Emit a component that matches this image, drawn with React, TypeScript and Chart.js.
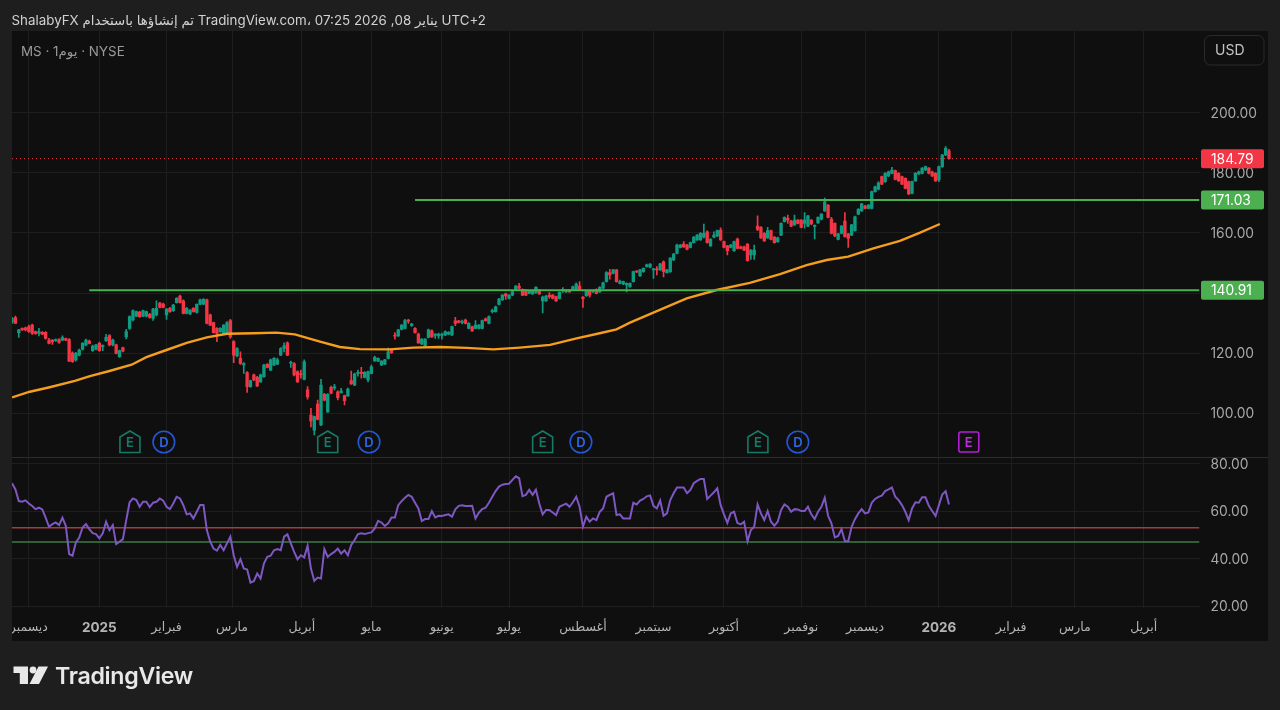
import React, { useEffect, useRef } from "react";
import { Chart, registerables } from "chart.js";

Chart.register(...registerables);

const FONT = 'Inter, "DejaVu Sans", sans-serif';

const opens = [
  130.3,131.8,126.8,128.2,128.4,128.8,129.3,127.1,126.5,126.9,
  126.9,124.3,124.3,124.1,124.5,124.3,124.8,124.5,120.1,117.7,
  119.3,121.2,122.7,124,120.8,121.3,123.2,122.1,124.1,125.8,
  122.7,122.7,118.8,121.8,125.4,128.2,131,132.3,133.6,132.3,
  132.3,132.9,131.5,132.7,136.6,136.3,132.7,134.9,134.1,136.8,
  139,137.4,133.2,133,134.9,133.5,136.3,136.3,137.7,132.7,
  130.1,128.2,127.1,126.5,126.5,130.8,123.8,119,118.2,116,
  113.5,108.8,112.7,111.9,110.4,112.1,116.2,114.3,116,116.3,
  119.3,121.5,123.4,116.6,116.5,113.8,113,111.2,107.7,99.3,
  94.3,103,96,106.2,100.4,108.6,108.4,107.1,106.8,105.8,
  105.7,110.8,109.3,113.2,113.6,111.9,111,113.2,117.4,117.3,
  116,116.3,118.2,121.2,125.8,125.7,127.9,128.2,130.8,129.1,
  128.2,126.3,123,122.3,125.2,127.4,125.9,125.7,125.9,126,
  126.3,126,130.7,130.7,130.2,131,128.2,128.8,128.2,128.2,
  128.2,131.4,129.9,133.8,133.8,136.2,137.7,139.7,138.2,139.3,
  141.2,142.3,141.2,141,139.9,139.7,140.1,141,137.4,137.4,
  139.3,139.3,138.8,138.2,140.8,140.4,141,141,141.2,142.3,
  138.6,139.1,140.8,140.4,141.2,140.4,141.6,143.8,146.8,146.6,
  147.7,143.2,143,142.7,142.1,143.8,147.2,145.7,147.1,148.8,
  148.6,147.7,147.9,147.7,150.4,146.8,147.1,151,153.2,155.2,
  156.3,156,155.2,156.8,157.7,157.7,158.6,160.4,155.7,158.6,
  159,161,157.1,155.7,155.2,154.1,158,155.4,155.4,156.3,
  152.7,152.7,162.3,161.9,159.9,158.4,160.8,158.6,157.1,159.3,
  163.8,164.9,164,162.7,164.3,164.3,163.2,162.3,164.3,162.2,
  163.4,164.6,167.4,169.3,164.6,163.2,157.9,159.9,164,159.7,
  159.3,160.8,166.3,167.4,169,168.2,168.2,173.8,174.6,178.8,
  177.1,179,179.9,180.8,179.9,178.8,178.2,177.1,173.2,177.4,
  179.7,179.9,181,181.6,180.4,179.9,177.7,182.1,186,187.4,
];

const highs = [
  131.9,132.3,127.9,128.4,128.6,129.3,129.6,127.3,128.2,127.1,
  127.1,124.9,124.5,124.7,124.8,125.7,125,124.8,120.4,120.2,
  121.3,123.5,124.6,124.3,122.6,122.9,123.6,122.7,126.2,126.1,
  124.6,123,121,122,127.9,132.4,134.4,134,133.9,134.3,
  134,133.2,134.9,137.4,136.9,136.6,134.9,135.2,136.2,138.5,
  139.3,137.7,135.2,134.5,135.1,136.4,138,138.1,138,133,
  130.3,128.5,128.5,129.5,130.5,131.2,124.1,121.8,120.4,116.8,
  113.8,111,113,112.2,113,116.2,116.5,118,118.5,118.3,
  121.8,123.4,123.7,117.3,116.8,114.1,114.3,117.7,108.8,101.6,
  99,104.3,111.2,106.6,106.5,109,109.6,107.4,108.2,106,
  108.3,114,113.3,114.3,115.2,113.8,114,116,119,118.4,
  117.5,117.9,121.6,121.4,126.8,127.9,129.5,131.2,131.2,129.9,
  128.5,126.6,124.8,124.8,128,127.7,126.5,126.6,126.6,127.4,
  127.1,129,131.9,130.9,131,131.3,130.1,129,130.8,129.5,
  131,131.6,132.4,134.6,135.6,138.2,139.5,140,139.5,140.6,
  142.5,143.2,141.4,141.2,141,141,142.1,141.2,139,139.2,
  140.1,139.5,139,140.4,141.8,141.2,141.2,142.3,143.4,143.8,
  138.8,140.9,141,141,141.4,142.1,143.6,147.1,147.9,147.9,
  147.9,144.3,144,143.4,143.4,147.3,147.5,147.9,148.4,149.6,
  149.8,148.2,148.8,149.9,150.7,147.9,151.8,153.2,156.3,156.2,
  157.1,156.2,157,158.8,159.5,160.1,163,160.7,158.1,160.4,
  161,161.7,157.3,155.9,156.2,157.3,158.3,155.6,155.6,156.5,
  154.5,156,165.7,162.1,160.1,161.9,161,158.8,158.6,163.4,
  165.4,166,164.2,166,164.5,164.5,166.8,165.9,164.5,162.7,
  165.4,166.5,171.6,169.5,165.2,163.4,159.9,162.5,166.8,159.9,
  162.9,165.6,168.1,169.9,169.2,169.5,174,175.6,177.1,179,
  180.1,180.6,181.9,181,180.1,179,178.4,177.3,177.3,180.1,
  180.6,181.8,182.3,181.8,180.6,180.1,182.3,186.2,188.8,187.9,
];

const lows = [
  129.9,129.9,125.2,127.5,127.4,126.9,126.2,126.2,125.7,126.1,
  124.6,123,122.9,123.9,123.2,124.1,124.1,117.1,116.9,117.3,
  119,121,122.4,123,120.5,121,120.5,120.8,123.9,122.4,
  122.4,119.7,118.5,120.4,124.7,127.9,130.7,132.1,131.9,132.1,
  132,131.6,130.9,132.4,135,135,131.2,133.5,133.9,136.6,
  136.6,133,133,132.8,133.6,133.3,136.1,136.1,129.7,129.1,
  126.6,123.8,126.9,126.3,126.3,124.9,116.8,118.7,116.2,113.2,
  106.9,108.5,110.8,108.8,110.2,111.9,115,114.1,115.8,116.1,
  119.1,120.4,119.1,115.2,112.4,110.2,111.6,111,104.6,95.4,
  92.7,97.7,95.8,104,100.2,106.4,107.7,104.4,106.6,102.7,
  105.5,109.5,109.1,112.3,111.6,111.7,110.4,113,117.2,117.1,
  115.8,116.1,118,119.9,124.6,125.5,127.7,128,129.9,128.9,
  126.6,123.2,122.8,122.1,125,125.2,124.9,124.9,124.6,125.8,
  126.1,125.8,129.1,130,129.7,129.7,128,127.2,128,128,
  128,130.6,129.7,133.4,133.6,136,137.5,137.9,138,139.1,
  141,141.4,139.1,139.1,139.7,139.5,139.9,139.5,133.4,137.2,
  138.2,138,137.2,138,140.2,140.2,140.2,140.8,141,141,
  135.2,138.9,138.6,140.2,139.7,140.2,141.4,143.6,144.6,146.4,
  143.6,143,142.8,140.4,141.9,143.6,146.8,145.5,146.9,148.6,
  148.4,144.9,146,147.5,145.4,146.6,146.9,150.8,153,155,
  155.2,154.4,155,156.6,157.5,157.5,158.4,156.6,155.5,158.4,
  158.8,157.5,155,152.7,155,153.9,154.7,154.7,154.1,150.6,
  151.2,151.2,160.8,158.2,157.2,158.2,157.7,156.6,156.9,159.1,
  163.6,163.2,162.1,162.5,163,161.7,161.6,162.1,162.8,158,
  163.2,164.4,167.2,165,159.7,158.8,157.7,159.7,158.6,155.2,
  159.1,160.6,166.1,167.2,168,168,168,173.6,174.4,176.1,
  176.9,178.8,179.7,177.7,177.2,176.1,174.7,172.8,173,177.2,
  179.5,179.7,180.8,179.7,178.8,177.2,177.1,181.9,185.8,184.6,
];

const closes = [
  131.5,129.9,127.7,127.7,127.7,127.1,126.5,126.5,127.1,126.3,
  124.9,123.2,123.7,124.5,123.5,125.1,124.3,117.3,117.1,119.9,
  121,123.2,124.3,123.2,122.3,122.7,120.8,122.4,125.2,122.7,
  124.3,119.9,120.8,120.6,127.1,132.1,134.1,133.8,132.1,134.1,
  133.8,131.9,134.6,134.9,135.2,135.2,134.6,133.8,136,138.2,
  136.8,133.2,134.9,134.3,133.8,136.2,137.7,137.9,129.9,129.3,
  126.8,126.5,128.2,129.3,130.1,125.4,119.3,121.5,116.5,116.5,
  108.8,110.8,111,109,112.7,116,115.2,117.7,118.2,117.7,
  121.5,122.4,119.3,116.9,112.7,110.4,112.8,117.1,105.4,97.4,
  98.8,97.9,109.3,104.3,106.2,106.6,108.6,105.1,107.4,104.1,
  108,109.7,113,113.5,113.2,113.6,113.8,115.4,118.6,118.2,
  117.3,117.7,120.4,120.1,125.6,127.7,129.3,130.8,130.6,129.6,
  126.8,123.4,124.6,124.6,127.7,125.4,126.3,126.3,126.3,127.1,
  126.9,128.8,129.9,130.2,130.4,129.9,129.9,127.4,129.3,129.3,
  130.8,130.8,132.1,134.1,135.4,138,139.3,139,139.3,140.4,
  142.3,141.6,139.3,139.3,140.8,140.8,141.9,139.7,138.6,139,
  138.8,138.2,137.4,140.2,141.2,141,140.4,142.1,143,141.2,
  138.1,140.7,139.3,140.8,139.9,141.9,143.4,146.8,146,147.7,
  143.8,143.8,143.8,143.2,143.2,147.1,147,147.7,148.2,149.4,
  149.6,147.9,147.7,149.7,147.1,147.7,151.6,153,156,156,
  155.4,154.6,156.8,158.6,159.3,159.9,159.9,156.8,157.9,159.3,
  160.8,157.7,155.2,154.1,156,157.1,154.9,154.9,154.3,150.8,
  154.3,154.3,161.2,158.4,157.4,160.8,157.9,156.8,158.4,163.2,
  165.2,164.3,162.3,164.3,163.2,161.9,164.3,165.7,163,162.5,
  165.2,166.3,170.4,165.2,159.9,159,159.7,162.3,158.8,158.2,
  162.7,165.4,167.9,169.7,168.2,169.3,173.8,175.4,176.6,176.3,
  179.9,180.4,181,177.9,177.4,176.3,174.9,173,177.1,179.9,
  180.4,181.6,182.1,179.9,179,177.4,182.1,186,188.2,184.79,
];

const rsiValues = [
  71.7,69.1,64.2,63.9,64.5,63.2,62.1,60.8,61.4,60.7,
  57.2,53.4,54.5,55.2,54.1,57.2,53.8,41.9,41.2,46.8,
  48.8,53.1,54.5,52.4,50.7,50.3,48.5,50.6,55.5,52,
  54.1,46.1,47.1,48.2,56.2,63.7,65.3,64.6,61.8,63.9,
  63.9,61.7,63.5,63.9,65.3,64.4,61.8,60.8,63.2,66,
  65.3,62.5,58.6,59,56.9,59.7,62.5,62.5,52,47.1,
  44.2,43.3,45.7,43.5,46.4,49.2,41.4,36.5,39.7,35.8,
  35.4,29.9,30.5,33.7,31.6,37.9,40.7,41.2,43.5,44,
  43.5,49.2,50.2,46.4,42.8,39.7,41.4,40.5,45.4,35.8,
  30.6,32,31.6,44,40.7,41.9,42.8,44.2,42.1,43.5,
  41.4,45.7,47.8,50.3,50.6,50.3,50.7,51,52.7,55.9,
  55.2,53.7,54.8,57.3,57.3,62.5,64.2,65.6,66.8,66,
  63.5,61.1,55.8,56.6,56.6,60,57.3,58,57.9,58.3,
  58.6,57.6,60.7,62.2,62.4,62.1,62.1,62.2,56.9,59.3,
  60.8,61.4,63.5,66,68.4,70.3,71.1,71.4,71.5,73.1,
  74.6,73.8,66.3,66.8,68.9,66.8,69,63.2,58.6,60.4,
  60.4,59.4,58.3,61.8,62.5,63.1,61.8,63.7,66,61.8,
  53.4,57.6,55.5,56.9,56.2,59.7,61.1,66,66.8,67.5,
  58.3,58.6,56.9,56.9,56.9,63.5,62.8,64.4,65.1,66.2,
  66.6,62.2,61.1,64.4,58,59,64.6,67.5,69.9,69.9,
  69.9,67.5,68.9,71.7,72.7,73.5,73.5,65.1,66.5,67.9,
  69.6,62.5,58.6,55,59,59.7,55,54.4,55.5,47.3,
  52,53.4,62.8,59,56.2,60,55.5,53.8,55.5,60.4,
  62.8,61.8,59.7,60.8,60.7,60,60,61.8,58.6,56.6,
  59.7,61.8,65.6,58,54.8,48.9,49.5,52.4,47.3,47.3,
  53.4,56.6,59,60.8,59,59.4,63.5,65.1,66,66.5,
  68.4,69.1,69.9,66,64.6,62.5,59.7,56.2,61.1,63.7,
  63.5,65.8,65.8,62.2,60,57.9,62.5,67,68.4,62.8,
];

const maBars = [
  0,5.3,11.2,18.7,23.2,29,35.6,40,46,52,58,64,72,78.8,84.2,91.7,97.6,103.6,112.5,119.5,
  127.4,135.4,143.3,151.2,160.2,168.1,175,180,184,193.4,200.9,209.8,219.7,228.7,236.6,242.6,249,256.5,264.4,270.4,276.3,
];
const maValues = [
  105.2,107.1,108.6,110.7,112.3,114,116.1,118.6,121,123.4,125.2,126.4,126.6,126.8,126.2,123.8,122,121.3,121.2,121.8,
  122,121.7,121.2,121.8,122.7,124.9,126.6,127.9,130.1,134.6,138.2,141,143.4,146.3,149.3,151,152.1,154.9,157.4,160.1,163,
];

const priceTicks = [100, 120, 140, 160, 180, 200];
const rsiTicks = [20, 40, 60, 80];
const monthBars = [5, 26, 46, 65.5, 86.3, 107, 128, 148, 170, 191, 212, 235, 254, 276, 297.5, 316.5, 337];
const monthLabels = ["ديسمبر", "2025", "فبراير", "مارس", "أبريل", "مايو", "يونيو", "يوليو", "أغسطس", "سبتمبر", "أكتوبر", "نوفمبر", "ديسمبر", "2026", "فبراير", "مارس", "أبريل"];

const lastPrice = 184.79;
const upperLevel = 171.03;
const lowerLevel = 140.91;
const upperLevelStart = 120;
const lowerLevelStart = 23;
const rsiUpper = 53;
const rsiLower = 47;

const xMin = -0.02;
const xMax = 353.6;
const markerPrice = 90.33;
const earningsBars = [35.1, 94, 158, 222.1];
const dividendBars = [45.2, 106.3, 169.4, 234];
const nextEarningsBar = 284.9;

const UP = "#0f9b82";
const DOWN = "#F23645";
const LEVEL = "#4CAF50";
const BG = "#1e1e1e";
const PANEL = "#0f0f0f";
const GRID = "#1e1e1e";
const TEXT = "#a8a8a8";

const barIndex = closes.map((_, i) => i);
const candleColors = closes.map((c, i) => (c >= opens[i] ? UP : DOWN));

const chromePlugin = {
  id: "chrome",
  beforeDraw(chart: any) {
    const { ctx } = chart;
    ctx.save();
    ctx.fillStyle = BG;
    ctx.fillRect(0, 0, 1280, 710);
    ctx.fillStyle = PANEL;
    ctx.fillRect(12, 31, 1256, 610);
    ctx.restore();
  },
  afterDatasetsDraw(chart: any) {
    const { ctx, scales } = chart;
    const cy = scales.y.getPixelForValue(markerPrice);
    ctx.save();
    ctx.textAlign = "center";
    ctx.textBaseline = "middle";
    ctx.font = `600 13px ${FONT}`;
    ctx.lineWidth = 1.6;
    for (const v of earningsBars) {
      const x = scales.x.getPixelForValue(v);
      ctx.strokeStyle = "#157a66";
      ctx.fillStyle = "#157a66";
      ctx.beginPath();
      ctx.moveTo(x, cy - 11);
      ctx.lineTo(x + 10, cy - 5);
      ctx.lineTo(x + 10, cy + 10.5);
      ctx.lineTo(x - 10, cy + 10.5);
      ctx.lineTo(x - 10, cy - 5);
      ctx.closePath();
      ctx.stroke();
      ctx.fillText("E", x, cy + 1);
    }
    for (const v of dividendBars) {
      const x = scales.x.getPixelForValue(v);
      ctx.strokeStyle = "#2456d6";
      ctx.fillStyle = "#2f66e8";
      ctx.beginPath();
      ctx.arc(x, cy, 10.8, 0, Math.PI * 2);
      ctx.stroke();
      ctx.fillText("D", x, cy + 1);
    }
    const mx = scales.x.getPixelForValue(nextEarningsBar);
    ctx.strokeStyle = "#b41fd6";
    ctx.fillStyle = "#c02be0";
    ctx.beginPath();
    ctx.roundRect(mx - 10, cy - 10, 20, 20, 2);
    ctx.stroke();
    ctx.fillText("E", mx, cy + 1);
    ctx.restore();
  },
  afterDraw(chart: any) {
    const { ctx, scales } = chart;
    ctx.save();
    // left page strip clips the first axis label
    ctx.fillStyle = BG;
    ctx.fillRect(0, 31, 12, 610);
    // pane separator
    ctx.fillStyle = "#2c2c2c";
    ctx.fillRect(12, 457, 1256, 1);
    // currency box
    ctx.strokeStyle = "#2a2a2a";
    ctx.lineWidth = 1;
    ctx.beginPath();
    ctx.roundRect(1204.5, 35.5, 59.5, 29.5, 6);
    ctx.stroke();
    ctx.fillStyle = "#c4c4c4";
    ctx.font = `14px ${FONT}`;
    ctx.textAlign = "left";
    ctx.textBaseline = "middle";
    ctx.fillText("USD", 1215, 51);
    // price badges
    const badges: [number, string][] = [
      [lastPrice, DOWN],
      [upperLevel, LEVEL],
      [lowerLevel, LEVEL],
    ];
    ctx.font = `13.8px ${FONT}`;
    for (const [v, c] of badges) {
      const y = scales.y.getPixelForValue(v);
      ctx.fillStyle = c;
      ctx.beginPath();
      ctx.roundRect(1201, y - 9.5, 63, 19, 2);
      ctx.fill();
      ctx.fillStyle = "#ffffff";
      ctx.fillText(v.toFixed(2), 1211, y + 0.8);
    }
    ctx.restore();
  },
};

const levelLine = (value: number, start: number) => [
  { x: start, y: value },
  { x: xMax, y: value },
];

export default function App() {
  const ref = useRef<HTMLCanvasElement | null>(null);

  useEffect(() => {
    if (!ref.current) return;
    const chart = new Chart(ref.current, {
      type: "bar",
      plugins: [chromePlugin],
      data: {
        labels: barIndex,
        datasets: [
          {
            type: "bar",
            label: "wicks",
            data: lows.map((l, i) => [l, highs[i]]),
            backgroundColor: candleColors,
            barThickness: 1,
            grouped: false,
            yAxisID: "y",
            order: 5,
          },
          {
            type: "bar",
            label: "bodies",
            data: opens.map((o, i) => [o, closes[i]]),
            backgroundColor: candleColors,
            barThickness: 2.7,
            minBarLength: 1,
            grouped: false,
            yAxisID: "y",
            order: 4,
          },
          {
            type: "line",
            label: "MA",
            data: maBars.map((x, i) => ({ x, y: maValues[i] })),
            borderColor: "#F59E1E",
            borderWidth: 2.4,
            pointRadius: 0,
            tension: 0,
            yAxisID: "y",
            order: 3,
          },
          {
            type: "line",
            label: "last",
            data: levelLine(lastPrice, xMin),
            borderColor: DOWN,
            borderWidth: 1,
            borderDash: [1, 3],
            pointRadius: 0,
            yAxisID: "y",
            order: 6,
          },
          {
            type: "line",
            label: "upper",
            data: levelLine(upperLevel, upperLevelStart),
            borderColor: LEVEL,
            borderWidth: 2,
            pointRadius: 0,
            yAxisID: "y",
            order: 2,
          },
          {
            type: "line",
            label: "lower",
            data: levelLine(lowerLevel, lowerLevelStart),
            borderColor: LEVEL,
            borderWidth: 2,
            pointRadius: 0,
            yAxisID: "y",
            order: 2,
          },
          {
            type: "line",
            label: "rsi upper",
            data: levelLine(rsiUpper, xMin),
            borderColor: "#a83a40",
            borderWidth: 1.4,
            pointRadius: 0,
            yAxisID: "y2",
            order: 2,
          },
          {
            type: "line",
            label: "rsi lower",
            data: levelLine(rsiLower, xMin),
            borderColor: "#3f7a48",
            borderWidth: 1.4,
            pointRadius: 0,
            yAxisID: "y2",
            order: 2,
          },
          {
            type: "line",
            label: "RSI",
            data: rsiValues.map((y, x) => ({ x, y })),
            borderColor: "#7E57C2",
            borderWidth: 2,
            pointRadius: 0,
            tension: 0,
            yAxisID: "y2",
            order: 1,
          },
        ],
      } as any,
      options: {
        responsive: false,
        animation: false,
        devicePixelRatio: 1,
        layout: { padding: { left: 12, top: 31, right: 0, bottom: 69 } },
        plugins: { legend: { display: false }, tooltip: { enabled: false } },
        scales: {
          x: {
            type: "linear",
            position: "bottom",
            min: xMin,
            max: xMax,
            offset: false,
            afterBuildTicks: (s: any) => {
              s.ticks = monthBars.map((value) => ({ value }));
            },
            afterFit: (s: any) => {
              s.height = 33.5;
              s.paddingLeft = 0;
              s.paddingRight = 0;
            },
            grid: { color: GRID, drawTicks: false, offset: false },
            border: { display: false },
            ticks: {
              autoSkip: false,
              maxRotation: 0,
              padding: 12,
              color: "#b4b4b4",
              font: (c: any) => {
                const i = monthBars.indexOf(c.tick?.value);
                const year = /^\d+$/.test(monthLabels[i] ?? "");
                return { family: FONT, size: year ? 13.5 : 12.5, weight: year ? "bold" : "normal" };
              },
              callback: (v: any) => monthLabels[monthBars.indexOf(v)] ?? "",
            },
          },
          y: {
            type: "linear",
            position: "right",
            stack: "panes",
            stackWeight: 426.5,
            min: 85.17,
            max: 227.33,
            afterBuildTicks: (s: any) => {
              s.ticks = priceTicks.map((value) => ({ value }));
            },
            afterFit: (s: any) => {
              s.width = 80.5;
            },
            grid: { color: GRID, drawTicks: false },
            border: { display: false },
            ticks: {
              padding: 11,
              labelOffset: 1,
              color: TEXT,
              font: { family: FONT, size: 13.8 },
              callback: (v: any) => Number(v).toFixed(2),
            },
          },
          y2: {
            type: "linear",
            position: "right",
            stack: "panes",
            stackWeight: 150,
            min: 19.4,
            max: 82.54,
            afterBuildTicks: (s: any) => {
              s.ticks = rsiTicks.map((value) => ({ value }));
            },
            afterFit: (s: any) => {
              s.width = 80.5;
            },
            grid: { color: GRID, drawTicks: false },
            border: { display: false },
            ticks: {
              padding: 11,
              labelOffset: 1,
              color: TEXT,
              font: { family: FONT, size: 13.8 },
              callback: (v: any) => Number(v).toFixed(2),
            },
          },
        },
      } as any,
    });
    return () => chart.destroy();
  }, []);

  return (
    <div style={{ position: "fixed", left: 0, top: 0, width: 1280, height: 710, overflow: "hidden", background: BG, fontFamily: FONT }}>
      <canvas ref={ref} width={1280} height={710} style={{ position: "absolute", left: 0, top: 0, width: 1280, height: 710 }} />
      <div dir="rtl" style={{ position: "absolute", left: 0, width: 486, top: 11, fontSize: 13.35, lineHeight: "18px", color: "#d2d2d2", whiteSpace: "nowrap" }}>
        UTC+2 يناير 08, 2026 07:25 ،TradingView.com تم إنشاؤها باستخدام ShalabyFX
      </div>
      <div dir="ltr" style={{ position: "absolute", left: 21, top: 42, fontSize: 13.4, lineHeight: "18px", color: "#9a9a9a", whiteSpace: "nowrap" }}>
        MS · 1يوم · NYSE
      </div>
      <svg width="36" height="20" viewBox="0 0 36 20" style={{ position: "absolute", left: 13, top: 665 }}>
        <path d="M0.5 1.5H15V19H6.8V8H0.5Z M25.5 1.5H35L26 19H16.5Z" fill="#e8e8e8" />
        <circle cx="20" cy="5" r="3.4" fill="#e8e8e8" />
      </svg>
      <div style={{ position: "absolute", left: 55, top: 660, fontSize: 23.2, lineHeight: "32px", fontWeight: 600, color: "#e8e8e8", whiteSpace: "nowrap", letterSpacing: -0.3 }}>
        TradingView
      </div>
    </div>
  );
}
